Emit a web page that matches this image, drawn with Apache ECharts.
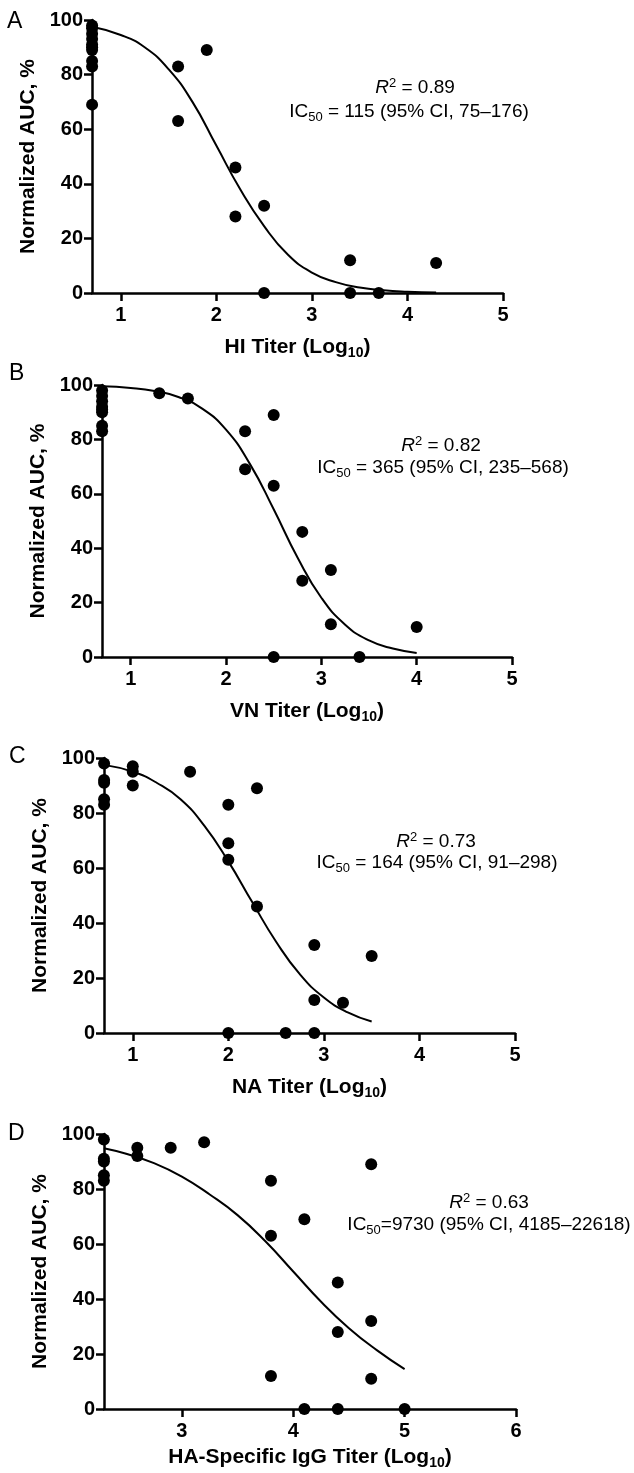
<!DOCTYPE html>
<html>
<head>
<meta charset="utf-8">
<script src="https://cdn.jsdelivr.net/npm/echarts@6/dist/echarts.min.js"></script>
<style>
html,body{margin:0;padding:0;background:#fff;}
#chart{width:634px;height:1473px;}
</style>
</head>
<body>
<div id="chart"></div>
<script>
// ---------- DATA ----------
// Panel A: HI titer (log10) vs normalized AUC
const hiX = [0.7,0.7,0.7,0.7,0.7,0.7,0.7,0.7,0.7,0.7, 1.6,1.6,1.9,2.2,2.2,2.5,2.5,3.4,3.4,3.7,4.3];
const hiY = [98,97,95,93,91,90,89,85,83,69, 83,63,89,46,28,32,0,12,0,0,11];
const hiCurveX = [0.7,1.0,1.25,1.5,1.75,2.0,2.25,2.5,2.75,3.0,3.25,3.5,3.75,4.0,4.3];
const hiCurveY = [97.5,94.5,90,82,70,54,38,24.5,14,7.5,4,2,1,0.5,0.2];

// Panel B: VN titer
const vnX = [0.7,0.7,0.7,0.7,0.7,0.7,0.7,0.7, 1.3,1.6,2.2,2.2,2.5,2.5,2.5,2.8,2.8,3.1,3.1,3.4,4.0];
const vnY = [98,96,94,92,91,90,85,83, 97,95,83,69,89,63,0,46,28,32,12,0,11];
const vnCurveX = [0.7,1.0,1.25,1.5,1.75,2.0,2.25,2.5,2.75,3.0,3.25,3.5,3.75,4.0];
const vnCurveY = [99.5,98.9,97.8,95.6,91.3,83.6,71,54.3,36.6,21.8,11.9,6.1,3.1,1.5];

// Panel C: NA titer
const naX = [0.7,0.7,0.7,0.7,0.7, 1.0,1.0,1.0, 1.6,2.0,2.0,2.0,2.0,2.3,2.3,2.6,2.9,2.9,2.9,3.2,3.5];
const naY = [98,92,91,85,83, 97,95,90, 95,83,69,63,0,89,46,0,32,12,0,11,28];
const naCurveX = [0.7,1.0,1.25,1.5,1.75,2.0,2.25,2.5,2.75,3.0,3.25,3.5];
const naCurveY = [97.5,95,91,85,75.3,62.4,47.6,33.2,21.3,12.9,7.5,4.2];

// Panel D: HA-specific IgG titer
const igX = [2.3,2.3,2.3,2.3,2.3, 2.6,2.6,2.9,3.2,3.8,3.8,3.8,4.1,4.1,4.4,4.4,4.4,4.7,4.7,4.7,5.0];
const igY = [98,91,90,85,83, 95,92,95,97,83,63,12,69,0,46,28,0,89,32,11,0];
const igCurveX = [2.3,2.5,2.75,3.0,3.25,3.5,3.75,4.0,4.25,4.5,4.75,5.0];
const igCurveY = [94.8,92.8,89.4,84.5,78,70.5,61,50,39,29.4,21.4,14.5];

// Axis ticks / labels
const xTicksABC = [1,2,3,4,5];
const xTicksD = [3,4,5,6];
const panelLetters = ['A','B','C','D'];
const xNames = ['HI Titer (Log', 'VN Titer (Log', 'NA Titer (Log', 'HA-Specific IgG Titer (Log'];
const yName = 'Normalized AUC, %';
const r2Text = ['0.89','0.82','0.73','0.63'];
const ic50Text = [' = 115 (95% CI, 75–176)', ' = 365 (95% CI, 235–568)', ' = 164 (95% CI, 91–298)', '=9730 (95% CI, 4185–22618)'];

// ---------- LAYOUT ----------
const FONT = "'Liberation Sans', Arial, Helvetica, sans-serif";
const panels = [
  {grid:{left:92, top:20, width:411, height:273}, xmin:0.69897, xmax:5, ticks:xTicksABC, px:hiX, py:hiY, cx:hiCurveX, cy:hiCurveY, nameGap:44,
   letter:[7,23], ann:[415,88,409,112]},
  {grid:{left:102, top:385, width:410, height:272}, xmin:0.69897, xmax:5, ticks:xTicksABC, px:vnX, py:vnY, cx:vnCurveX, cy:vnCurveY, nameGap:44,
   letter:[9,375], ann:[441,446,443,468]},
  {grid:{left:104, top:758, width:411, height:275}, xmin:0.69897, xmax:5, ticks:xTicksABC, px:naX, py:naY, cx:naCurveX, cy:naCurveY, nameGap:44,
   letter:[9,758], ann:[436,842,437,863]},
  {grid:{left:104, top:1134, width:412, height:275}, xmin:2.30103, xmax:6, ticks:xTicksD, px:igX, py:igY, cx:igCurveX, cy:igCurveY, nameGap:38,
   letter:[8,1135], ann:[489,1203,489,1225]}
];

const axisLineStyle = {color:'#000', width:2.5};
const grids = [], xAxes = [], yAxes = [], series = [], graphics = [];

panels.forEach((p, i) => {
  grids.push(Object.assign({containLabel:false}, p.grid));
  xAxes.push({
    gridIndex:i, type:'value', min:p.xmin, max:p.xmax,
    axisLine:{show:true, onZero:false, lineStyle:axisLineStyle},
    axisTick:{show:true, length:8, lineStyle:axisLineStyle, customValues:p.ticks},
    axisLabel:{show:true, customValues:p.ticks, color:'#000', fontFamily:FONT, fontWeight:'bold', fontSize:20, margin:12},
    splitLine:{show:false},
    name:'{b|' + xNames[i] + '}{s|10}{b|)}', nameLocation:'middle', nameGap:p.nameGap,
    nameTextStyle:{color:'#000', rich:{
      b:{fontFamily:FONT, fontWeight:'bold', fontSize:21, lineHeight:21, color:'#000'},
      s:{fontFamily:FONT, fontWeight:'bold', fontSize:14, lineHeight:14, padding:[11,0,0,0], color:'#000'}
    }}
  });
  yAxes.push({
    gridIndex:i, type:'value', min:0, max:100, interval:20,
    axisLine:{show:true, lineStyle:axisLineStyle},
    axisTick:{show:true, length:8, lineStyle:axisLineStyle},
    axisLabel:{color:'#000', fontFamily:FONT, fontWeight:'bold', fontSize:20, margin:9},
    splitLine:{show:false},
    name:yName, nameLocation:'middle', nameGap:53,
    nameTextStyle:{color:'#000', fontFamily:FONT, fontWeight:'bold', fontSize:21}
  });
  series.push({
    type:'line', xAxisIndex:i, yAxisIndex:i, smooth:true, showSymbol:false, symbol:'none',
    lineStyle:{color:'#000', width:2}, z:2, silent:true,
    data:p.cx.map((x, k) => [x, p.cy[k]])
  });
  series.push({
    type:'scatter', xAxisIndex:i, yAxisIndex:i, symbol:'circle', symbolSize:12, clip:false,
    itemStyle:{color:'#000', opacity:1}, z:3,
    data:p.px.map((x, k) => [x, p.py[k]])
  });
  graphics.push({
    type:'text', left:p.letter[0], top:p.letter[1] - 13,
    style:{text:panelLetters[i], font:'23px ' + FONT, fill:'#000'}
  });
  graphics.push({
    type:'text', x:p.ann[0], y:p.ann[1],
    style:{text:'{i|R}{sup|2}{n| = ' + r2Text[i] + '}', align:'center', verticalAlign:'middle',
      rich:{
        i:{fontFamily:FONT, fontStyle:'italic', fontSize:19, lineHeight:20, fill:'#000'},
        sup:{fontFamily:FONT, fontSize:13, lineHeight:13, padding:[0,0,9,0], fill:'#000'},
        n:{fontFamily:FONT, fontSize:19, lineHeight:20, fill:'#000'}
      }}
  });
  graphics.push({
    type:'text', x:p.ann[2], y:p.ann[3],
    style:{text:'{n|IC}{sub|50}{n|' + ic50Text[i] + '}', align:'center', verticalAlign:'middle',
      rich:{
        sub:{fontFamily:FONT, fontSize:13, lineHeight:13, padding:[10,0,0,0], fill:'#000'},
        n:{fontFamily:FONT, fontSize:19, lineHeight:20, fill:'#000'}
      }}
  });
});

const chart = echarts.init(document.getElementById('chart'), null, {renderer:'canvas'});
chart.setOption({
  animation:false,
  backgroundColor:'#fff',
  grid:grids, xAxis:xAxes, yAxis:yAxes, series:series, graphic:graphics
});
</script>
</body>
</html>
